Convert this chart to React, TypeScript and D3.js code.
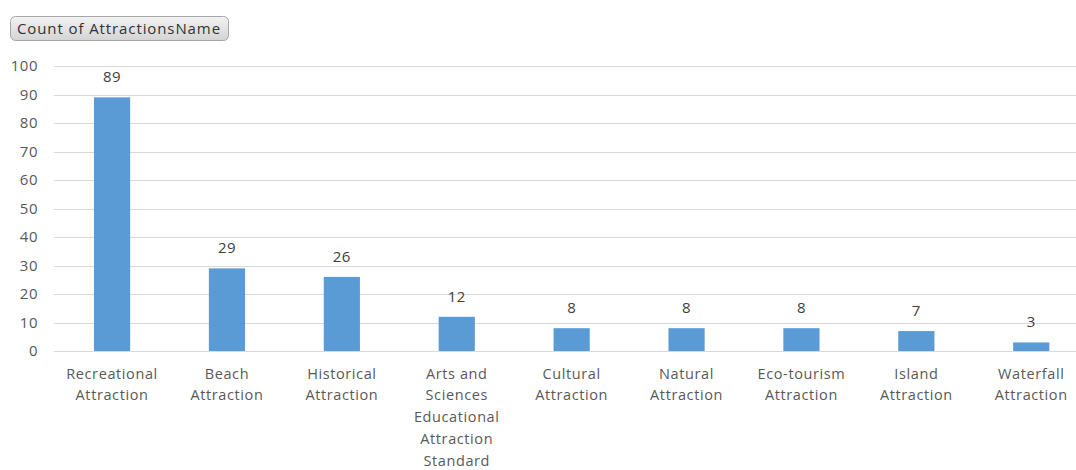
import React from "react";
import * as d3 from "d3";

const categories: string[][] = [
  ["Recreational", "Attraction"],
  ["Beach", "Attraction"],
  ["Historical", "Attraction"],
  ["Arts and", "Sciences", "Educational", "Attraction", "Standard"],
  ["Cultural", "Attraction"],
  ["Natural", "Attraction"],
  ["Eco-tourism", "Attraction"],
  ["Island", "Attraction"],
  ["Waterfall", "Attraction"],
];
const values: number[] = [89, 29, 26, 12, 8, 8, 8, 7, 3];
const yTicks: number[] = [0, 10, 20, 30, 40, 50, 60, 70, 80, 90, 100];
const title = "Count of AttractionsName";

const W = 1076;
const H = 470;
const FONT = "'Open Sans', Lato, sans-serif";

export default function App() {
  const keys = categories.map((c) => c.join(" "));
  const x = d3.scaleBand<string>().domain(keys).range([54.6, 1088.7]).paddingInner(0.685).paddingOuter(0.3425);
  const y = d3.scaleLinear().domain([0, 100]).range([351, 66]);
  const grid = "#d9d9d9";
  const txt = "#595959";
  return (
    <svg width={W} height={H} style={{ position: "absolute", left: 0, top: 0, display: "block" }} fontFamily={FONT}>
      <defs>
        <linearGradient id="btn" x1="0" y1="0" x2="0" y2="1">
          <stop offset="0" stopColor="#f2f2f2" />
          <stop offset="1" stopColor="#d4d4d4" />
        </linearGradient>
      </defs>
      <rect x={0} y={0} width={W} height={H} fill="#fff" />
      <rect x={10.5} y={16.5} width={218} height={24} rx={5} fill="url(#btn)" stroke="#a6a6a6" />
      <text x={17} y={34} fontSize={15} fill="#333" letterSpacing={0.9}>{title}</text>
      {yTicks.map((t) => (
        <g key={t}>
          <line x1={54} x2={1076} y1={Math.round(y(t)) + 0.5} y2={Math.round(y(t)) + 0.5} stroke={grid} strokeWidth={1} />
          <text x={38} y={y(t)} dy="0.35em" textAnchor="end" fontSize={15} letterSpacing={0.5} fill={txt}>{t}</text>
        </g>
      ))}
      {values.map((v, i) => {
        const k = keys[i];
        const bx = x(k)!;
        return (
          <g key={k}>
            <rect x={bx} y={y(v)} width={x.bandwidth()} height={y(0) - y(v)} fill="#5b9bd5" />
            <text x={bx + x.bandwidth() / 2} y={y(v) - 15} textAnchor="middle" fontSize={15} letterSpacing={0.4} fill="#404040">{v}</text>
            {categories[i].map((line, j) => (
              <text key={j} x={bx + x.bandwidth() / 2} y={373.5 + j * 21.9} dy="0.35em" textAnchor="middle" fontSize={14.5} letterSpacing={0.6} fill={txt}>{line}</text>
            ))}
          </g>
        );
      })}
    </svg>
  );
}
